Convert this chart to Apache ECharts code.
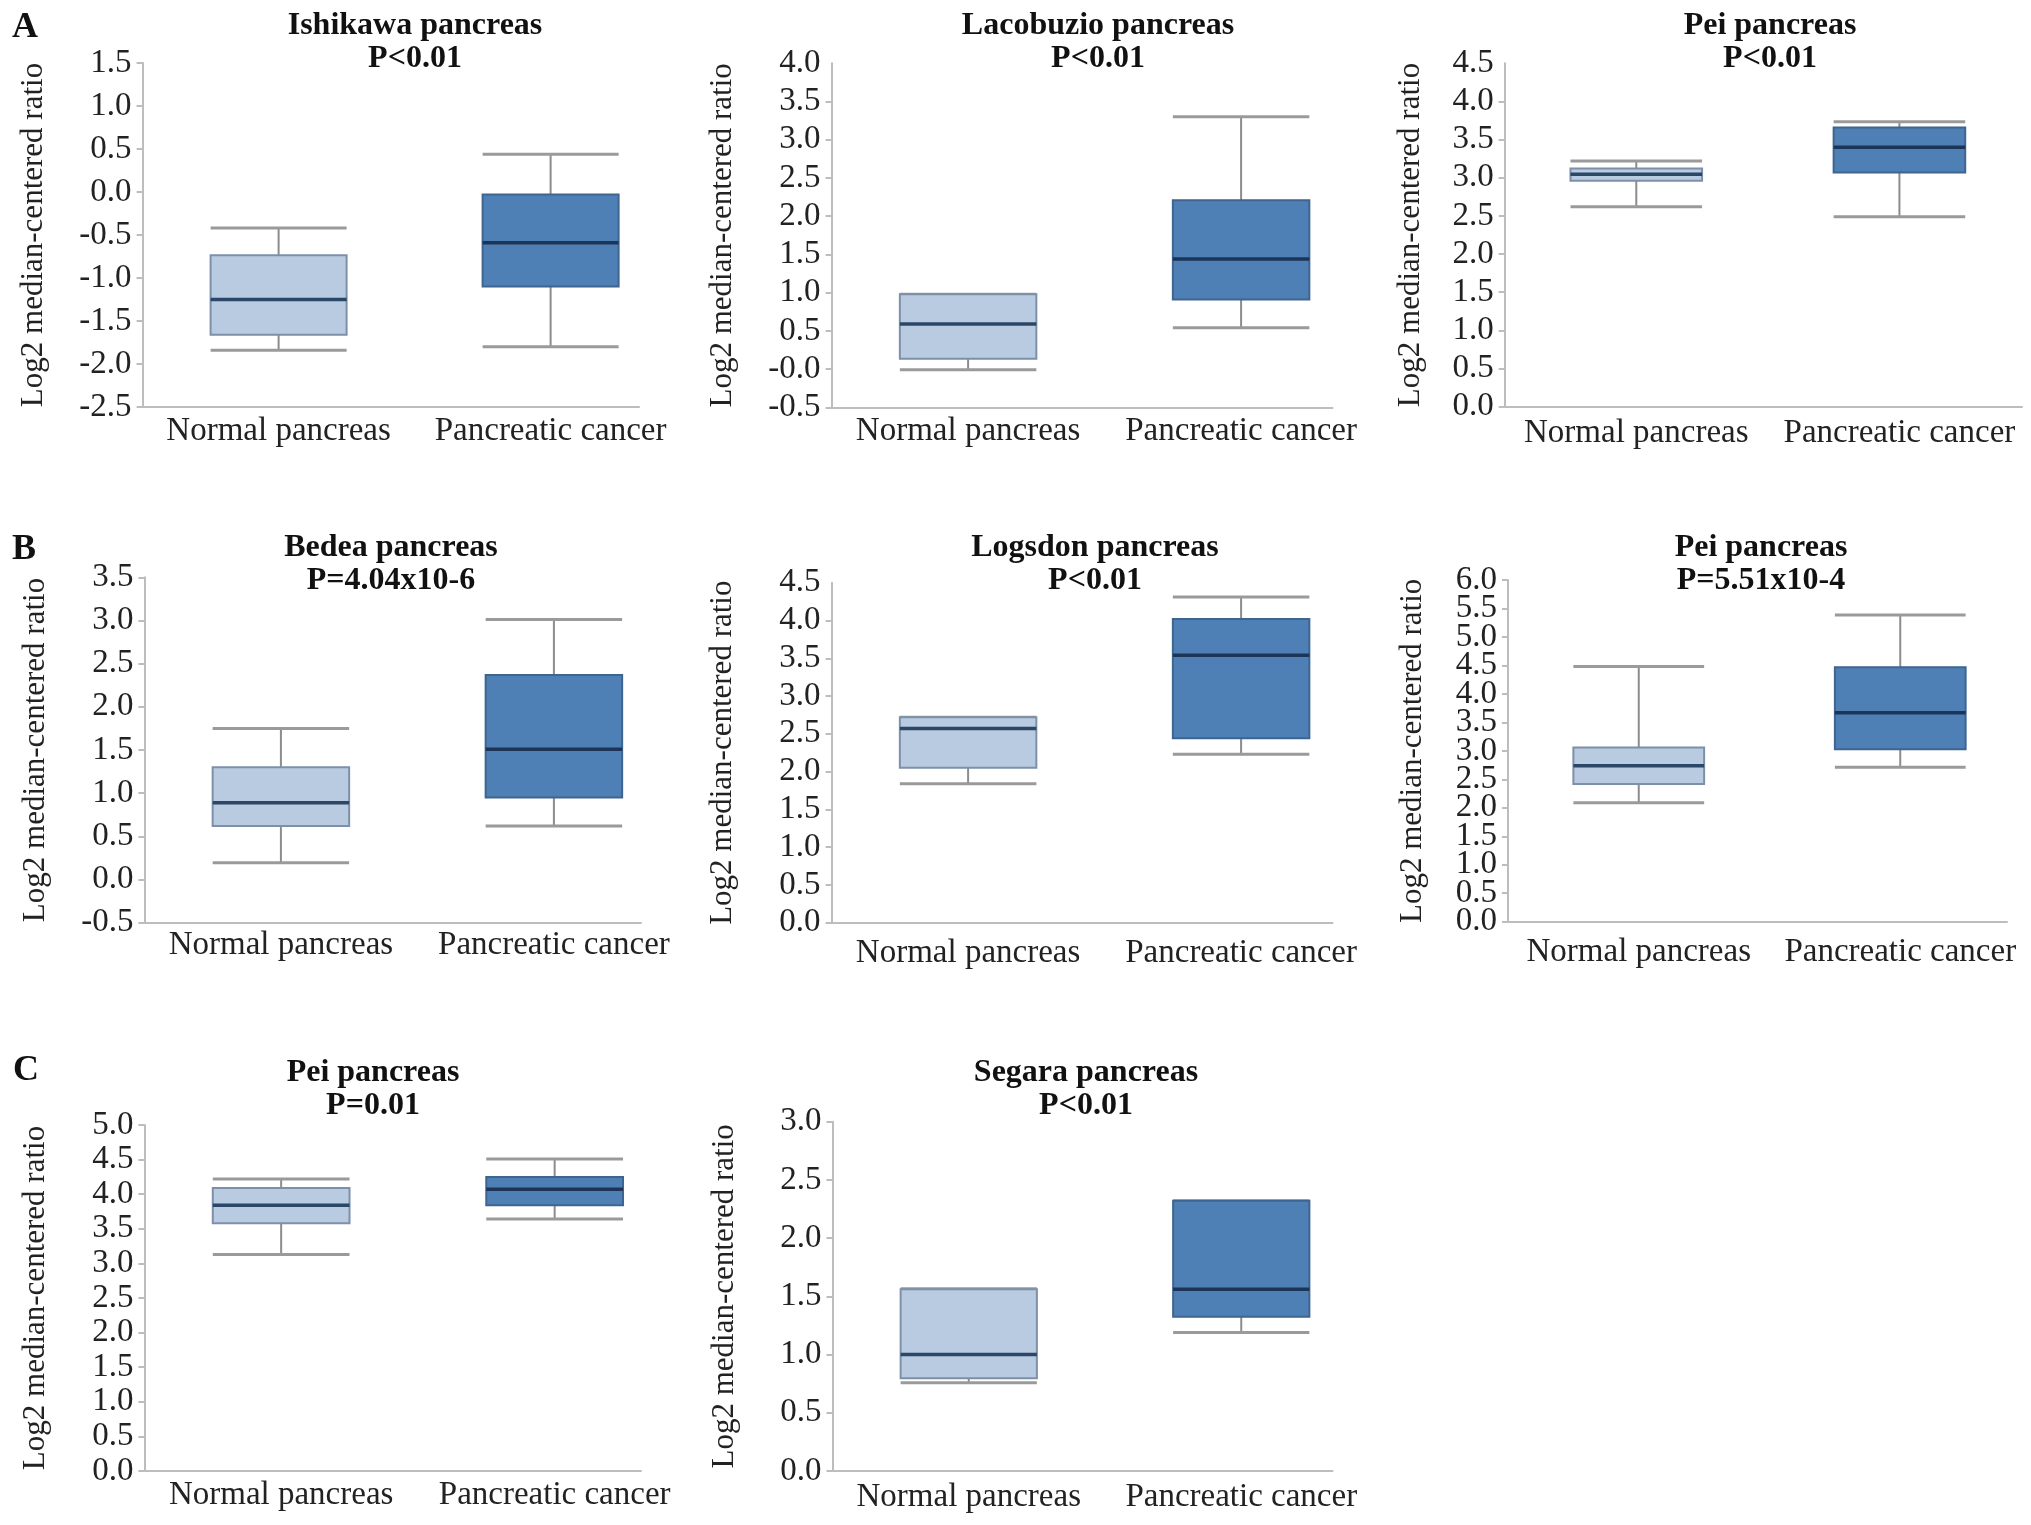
<!DOCTYPE html>
<html>
<head>
<meta charset="utf-8">
<script src="https://cdn.jsdelivr.net/npm/echarts@6/dist/echarts.min.js"></script>
<style>
html,body{margin:0;padding:0;background:#fff;}
#chart{width:2031px;height:1525px;}
</style>
</head>
<body>
<div id="chart"></div>
<script>
// ---------------- DATA ----------------
const categories = ['Normal pancreas', 'Pancreatic cancer'];

const panelTitles = ['Ishikawa pancreas', 'Lacobuzio pancreas', 'Pei pancreas',
                     'Bedea pancreas', 'Logsdon pancreas', 'Pei pancreas',
                     'Pei pancreas', 'Segara pancreas'];
const panelPValues = ['P<0.01', 'P<0.01', 'P<0.01',
                      'P=4.04x10-6', 'P<0.01', 'P=5.51x10-4',
                      'P=0.01', 'P<0.01'];

// [min, Q1, median, Q3, max]
const normalValues = [
  [-1.84, -1.66, -1.25, -0.735, -0.42],
  [-0.01, 0.135, 0.59, 0.98, 0.98],
  [2.62, 2.96, 3.045, 3.12, 3.22],
  [0.195, 0.62, 0.89, 1.30, 1.75],
  [1.84, 2.05, 2.57, 2.72, 2.72],
  [2.09, 2.42, 2.74, 3.06, 4.48],
  [3.13, 3.58, 3.84, 4.09, 4.22],
  [0.758, 0.796, 1.0, 1.56, 1.565]
];
const cancerValues = [
  [-1.80, -1.10, -0.59, -0.03, 0.44],
  [0.54, 0.91, 1.44, 2.21, 3.30],
  [2.49, 3.07, 3.40, 3.66, 3.735],
  [0.62, 0.95, 1.51, 2.37, 3.01],
  [2.23, 2.44, 3.54, 4.02, 4.31],
  [2.71, 3.03, 3.67, 4.47, 5.385],
  [3.64, 3.84, 4.07, 4.25, 4.51],
  [1.19, 1.325, 1.56, 2.32, 2.32]
];

const yTickLabels = [
  ['-2.5','-2.0','-1.5','-1.0','-0.5','0.0','0.5','1.0','1.5'],
  ['-0.5','-0.0','0.5','1.0','1.5','2.0','2.5','3.0','3.5','4.0'],
  ['0.0','0.5','1.0','1.5','2.0','2.5','3.0','3.5','4.0','4.5'],
  ['-0.5','0.0','0.5','1.0','1.5','2.0','2.5','3.0','3.5'],
  ['0.0','0.5','1.0','1.5','2.0','2.5','3.0','3.5','4.0','4.5'],
  ['0.0','0.5','1.0','1.5','2.0','2.5','3.0','3.5','4.0','4.5','5.0','5.5','6.0'],
  ['0.0','0.5','1.0','1.5','2.0','2.5','3.0','3.5','4.0','4.5','5.0'],
  ['0.0','0.5','1.0','1.5','2.0','2.5','3.0']
];
const yTickStep = 0.5;
const yAxisName = 'Log2 median-centered ratio';
const panelLetters = ['A', 'B', 'C'];

// ---------------- LAYOUT (pixels) ----------------
const layout = [
  {x: 142.6, top: 63,    bottom: 407,   band: 272,   lineEnd: 639,    titleX: 415,  titleTop: 9,    nameGap: 93, labMargin: 8},
  {x: 831.6, top: 63.3,  bottom: 407.3, band: 273,   lineEnd: 1332.5, titleX: 1098, titleTop: 9,    nameGap: 93, labMargin: 8},
  {x: 1504.7,top: 63.3,  bottom: 406.7, band: 277,   lineEnd: 2022,   titleX: 1770, titleTop: 9,    nameGap: 78, labMargin: 10},
  {x: 144.4, top: 577.3, bottom: 922.7, band: 273,   lineEnd: 641,    titleX: 391,  titleTop: 531,  nameGap: 93, labMargin: 6},
  {x: 831.6, top: 582.7, bottom: 922.7, band: 273,   lineEnd: 1332.5, titleX: 1095, titleTop: 531,  nameGap: 93, labMargin: 14},
  {x: 1508,  top: 580,   bottom: 921.7, band: 270,   lineEnd: 2007,   titleX: 1761, titleTop: 531,  nameGap: 80, labMargin: 14},
  {x: 144.4, top: 1125,  bottom: 1471,  band: 273.5, lineEnd: 641,    titleX: 373,  titleTop: 1056, nameGap: 93, labMargin: 8},
  {x: 832.5, top: 1121.7,bottom: 1471,  band: 272.5, lineEnd: 1332.5, titleX: 1086, titleTop: 1056, nameGap: 92, labMargin: 10}
];
const letterPos = [{left: 12, top: 10}, {left: 12, top: 532}, {left: 13, top: 1053}];

const FONT = 'Liberation Serif';
const AXIS_COLOR = '#bdbdbd';
const TEXT_COLOR = '#222222';
const styles = [
  {fill: '#b9cbe1', stroke: '#7d90a9', median: '#2b4767'},
  {fill: '#4f80b5', stroke: '#3e6490', median: '#1b3457'}
];

// ---------------- BUILD ----------------
const chart = echarts.init(document.getElementById('chart'), null, {renderer: 'canvas'});

const grids = [], xAxes = [], yAxes = [], series = [], titles = [];

layout.forEach((L, i) => {
  const labels = yTickLabels[i];
  const yMin = parseFloat(labels[0]);
  const yMax = parseFloat(labels[labels.length - 1]);
  const lastOdd = (labels.length - 1) % 2 === 1;
  const h = L.bottom - L.top;
  const labelIndex = (v) => Math.round((v - yMin) / yTickStep);
  const labelStyle = {fontFamily: FONT, fontSize: 33, color: TEXT_COLOR, margin: 11, hideOverlap: false};

  grids.push({left: L.x, top: L.top, width: L.band * 2, height: h});
  grids.push({left: L.x, top: L.top, width: L.lineEnd - L.x, height: h});

  xAxes.push({
    type: 'category', gridIndex: 2 * i, data: categories,
    axisLine: {show: false}, axisTick: {show: false},
    axisLabel: {fontFamily: FONT, fontSize: 33, color: TEXT_COLOR, margin: L.labMargin, interval: 0}
  });
  xAxes.push({
    type: 'value', gridIndex: 2 * i + 1, min: 0, max: 1,
    axisLine: {show: true, onZero: false, lineStyle: {color: AXIS_COLOR, width: 2}},
    axisTick: {show: false}, axisLabel: {show: false}, splitLine: {show: false}
  });

  // main y axis: line, ticks, labels at even positions, axis name
  yAxes.push({
    type: 'value', gridIndex: 2 * i, position: 'left', min: yMin, max: yMax, interval: yTickStep,
    axisLine: {show: true, lineStyle: {color: AXIS_COLOR, width: 2}},
    axisTick: {show: true, length: 6, lineStyle: {color: AXIS_COLOR, width: 2}},
    splitLine: {show: false},
    axisLabel: Object.assign({}, labelStyle, {
      showMinLabel: true, showMaxLabel: !lastOdd,
      formatter: (v) => (labelIndex(v) % 2 === 0 ? labels[labelIndex(v)] : '')
    }),
    name: yAxisName, nameLocation: 'middle', nameGap: L.nameGap, nameRotate: 90,
    nameTextStyle: {fontFamily: FONT, fontSize: 31, color: TEXT_COLOR}
  });
  // overlay y axis: labels at odd positions only
  yAxes.push({
    type: 'value', gridIndex: 2 * i, position: 'left', offset: 0, min: yMin, max: yMax, interval: yTickStep,
    axisLine: {show: false}, axisTick: {show: false}, splitLine: {show: false},
    axisLabel: Object.assign({}, labelStyle, {
      showMinLabel: false, showMaxLabel: lastOdd,
      formatter: (v) => (labelIndex(v) % 2 === 1 ? labels[labelIndex(v)] : '')
    })
  });
  yAxes.push({type: 'value', gridIndex: 2 * i + 1, min: 0, max: 1, show: false});

  titles.push({
    text: panelTitles[i] + '\n' + panelPValues[i],
    left: L.titleX, top: L.titleTop, padding: 0,
    textAlign: 'center', textVerticalAlign: 'top',
    textStyle: {fontFamily: FONT, fontSize: 32, fontWeight: 'bold', color: '#111', lineHeight: 33}
  });

  const data = [[0].concat(normalValues[i]), [1].concat(cancerValues[i])];
  series.push({
    type: 'custom', xAxisIndex: 2 * i, yAxisIndex: 3 * i,
    encode: {x: 0, y: [1, 2, 3, 4, 5]},
    data: data,
    renderItem: function (params, api) {
      const idx = api.value(0);
      const v = [1, 2, 3, 4, 5].map(d => api.value(d));
      const cx = api.coord([idx, v[2]])[0];
      const band = api.size([1, 0])[0];
      const hw = band * 0.25;
      const y = (val) => api.coord([idx, val])[1];
      const st = styles[idx];
      const wh = {stroke: '#8c8c8c', lineWidth: 2};
      const cap = {stroke: '#9a9a9a', lineWidth: 3};
      return {
        type: 'group',
        children: [
          {type: 'line', shape: {x1: cx, y1: y(v[3]), x2: cx, y2: y(v[4])}, style: wh},
          {type: 'line', shape: {x1: cx, y1: y(v[0]), x2: cx, y2: y(v[1])}, style: wh},
          {type: 'line', shape: {x1: cx - hw, y1: y(v[4]), x2: cx + hw, y2: y(v[4])}, style: cap},
          {type: 'line', shape: {x1: cx - hw, y1: y(v[0]), x2: cx + hw, y2: y(v[0])}, style: cap},
          {type: 'rect', shape: {x: cx - hw, y: y(v[3]), width: 2 * hw, height: y(v[1]) - y(v[3])},
           style: {fill: st.fill, stroke: st.stroke, lineWidth: 2}},
          {type: 'line', shape: {x1: cx - hw, y1: y(v[2]), x2: cx + hw, y2: y(v[2])},
           style: {stroke: st.median, lineWidth: 3.5}}
        ]
      };
    }
  });
});

letterPos.forEach((p, k) => {
  titles.push({
    text: panelLetters[k], left: p.left, top: p.top, padding: 0,
    textStyle: {fontFamily: FONT, fontSize: 36, fontWeight: 'bold', color: '#111', lineHeight: 36}
  });
});

chart.setOption({
  animation: false,
  backgroundColor: '#ffffff',
  title: titles,
  grid: grids,
  xAxis: xAxes,
  yAxis: yAxes,
  series: series
});
</script>
</body>
</html>
